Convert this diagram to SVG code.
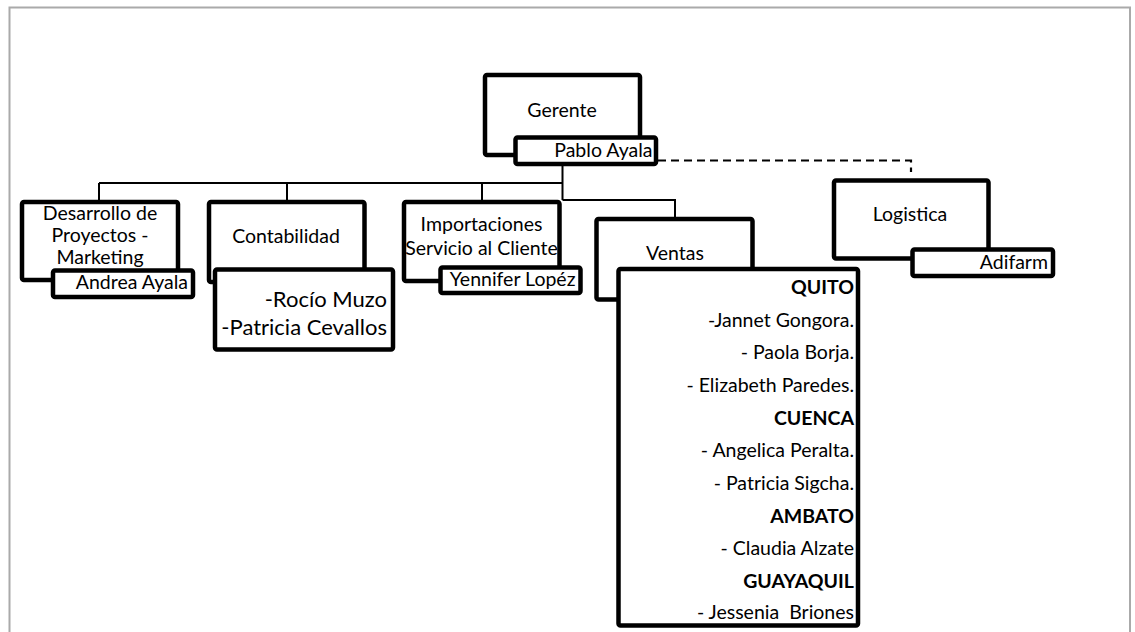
<svg xmlns="http://www.w3.org/2000/svg" width="1135" height="632" viewBox="0 0 1135 632">
<style>
.box{fill:#fff;stroke:#000;stroke-width:4.5;stroke-linejoin:round}
.ln{fill:none;stroke:#000;stroke-width:2}
.dash{fill:none;stroke:#000;stroke-width:2.2;stroke-dasharray:8 5}
text{font-family:Lato,"Liberation Sans",sans-serif;font-size:19.5px;fill:#000}
.c{text-anchor:middle}
.r{text-anchor:end}
.big{font-size:22px}
.b{font-weight:bold}
</style>
<rect x="0" y="0" width="1135" height="632" fill="#fff"/>
<rect x="9.5" y="7.5" width="1120.5" height="640" fill="none" stroke="#aaa" stroke-width="2"/>
<g id="connectors">
<path class="ln" d="M562.5 164 V200 M99 183 H562.5 M99 183 V202 M287 183 V202 M482 183 V202 M562.5 200 H675 V219"/>
<path class="dash" d="M658 160.5 H911 V172"/>
</g>
<g id="gerente">
<rect class="box" x="485" y="75" width="155" height="80" rx="2"/>
<text class="c" x="562" y="116.5">Gerente</text>
<rect class="box" x="515.5" y="137.5" width="140.5" height="26.5" rx="2"/>
<text class="r" x="652.5" y="157">Pablo Ayala</text>
</g>
<g id="desarrollo">
<rect class="box" x="22" y="202" width="156" height="78" rx="2"/>
<text class="c" x="100" y="220">Desarrollo de</text>
<text class="c" x="100" y="242">Proyectos -</text>
<text class="c" x="100" y="264">Marketing</text>
<rect class="box" x="53" y="270.5" width="140" height="26.5" rx="2"/>
<text class="r" x="188" y="289">Andrea Ayala</text>
</g>
<g id="contabilidad">
<rect class="box" x="209" y="202" width="155.5" height="80" rx="2"/>
<text class="c" x="286" y="242.5">Contabilidad</text>
<rect class="box" x="215" y="269.5" width="178" height="80" rx="2"/>
<text class="r big" x="387" y="307">-Rocío Muzo</text>
<text class="r big" x="387" y="335">-Patricia Cevallos</text>
</g>
<g id="importaciones">
<rect class="box" x="404" y="202" width="155.5" height="79" rx="2"/>
<text class="c" x="481.5" y="230.5">Importaciones</text>
<text class="c" x="481.5" y="255">Servicio al Cliente</text>
<rect class="box" x="440.5" y="267.5" width="140" height="25.5" rx="2"/>
<text class="r" x="575.5" y="286">Yennifer Lopéz</text>
</g>
<g id="ventas">
<rect class="box" x="596.5" y="219" width="156" height="80.5" rx="2"/>
<text class="c" x="675" y="260">Ventas</text>
<rect class="box" x="618.5" y="269" width="239.5" height="356.5" rx="2"/>
<text class="r b" x="854" y="294">QUITO</text>
<text class="r" x="854" y="326.5">-Jannet Gongora.</text>
<text class="r" x="854" y="359">- Paola Borja.</text>
<text class="r" x="854" y="391.5">- Elizabeth Paredes.</text>
<text class="r b" x="854" y="424.5">CUENCA</text>
<text class="r" x="854" y="457">- Angelica Peralta.</text>
<text class="r" x="854" y="489.5">- Patricia Sigcha.</text>
<text class="r b" x="854" y="522.5">AMBATO</text>
<text class="r" x="854" y="555">- Claudia Alzate</text>
<text class="r b" x="854" y="587.5">GUAYAQUIL</text>
<text class="r" x="854" y="619" xml:space="preserve">- Jessenia  Briones</text>
</g>
<g id="logistica">
<rect class="box" x="834" y="180.5" width="154.5" height="78" rx="2"/>
<text class="c" x="910" y="221">Logistica</text>
<rect class="box" x="912.5" y="249.5" width="140.5" height="26.5" rx="2"/>
<text class="r" x="1048" y="268.5">Adifarm</text>
</g>
</svg>
